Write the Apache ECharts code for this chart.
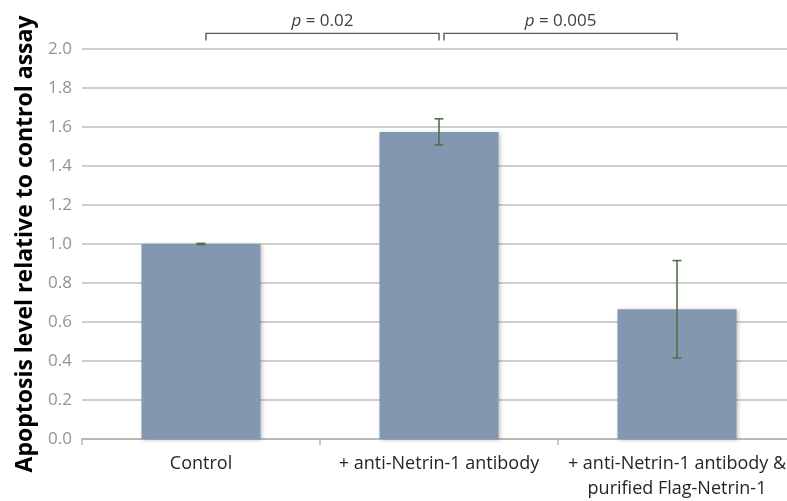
<!DOCTYPE html>
<html>
<head>
<meta charset="utf-8">
<script src="https://cdn.jsdelivr.net/npm/echarts@6/dist/echarts.min.js"></script>
<style>
  html, body { margin: 0; padding: 0; background: #fff; }
  #chart { width: 787px; height: 501px; }
</style>
</head>
<body>
<div id="chart"></div>
<script>
// ---- data ----
const categories = ['Control', '+ anti-Netrin-1 antibody', '+ anti-Netrin-1 antibody &\npurified Flag-Netrin-1'];
const means = [1.0, 1.575, 0.665];
const errors = [0.003, 0.067, 0.25];
const comparisons = [[0, 1], [1, 2]];
const pValues = ['0.02', '0.005'];
const bracketLevel = 2.08;     // value where bracket lines sit
const yTicks = [0, 2, 0.2];    // min, max, interval

const chart = echarts.init(document.getElementById('chart'), null, { renderer: 'canvas' });

const errorData = means.map((m, i) => [i, m - errors[i], m + errors[i]]);
const bracketData = comparisons.map((c, i) => [c[0], c[1], bracketLevel, pValues[i]]);

const option = {
  animation: false,
  grid: { left: 82, right: -9, top: 49, bottom: 62, containLabel: false, outerBoundsMode: 'none' },
  xAxis: {
    type: 'category',
    data: categories,
    axisLine: { lineStyle: { color: '#b3b3b3', width: 1.5 } },
    axisTick: { show: true, length: 6, lineStyle: { color: '#b3b3b3', width: 1.5 } },
    axisLabel: {
      color: '#262626', fontFamily: 'Open Sans', fontSize: 18, margin: 12, lineHeight: 25,
      interval: 0
    }
  },
  yAxis: {
    type: 'value',
    min: yTicks[0], max: yTicks[1], interval: yTicks[2],
    name: 'Apoptosis level relative to control assay',
    nameLocation: 'middle',
    nameRotate: 90,
    nameGap: 45,
    nameTextStyle: { color: '#000', fontFamily: 'Open Sans', fontWeight: 'bold', fontSize: 23 },
    axisLine: { show: false },
    axisTick: { show: false },
    axisLabel: {
      color: '#939393', fontFamily: 'Open Sans', fontSize: 17, margin: 10,
      formatter: v => v.toFixed(1)
    },
    splitLine: { lineStyle: { color: '#bfbfbf', width: 1.5 } }
  },
  series: [
    {
      type: 'bar',
      data: means,
      barWidth: '50%',
      itemStyle: {
        color: '#8497b0',
        shadowColor: 'rgba(0,0,0,0.25)', shadowBlur: 4, shadowOffsetX: 1, shadowOffsetY: 1
      },
      z: 2
    },
    {
      type: 'custom',
      data: errorData,
      z: 5,
      renderItem: function (params, api) {
        const x = api.value(0);
        const lo = api.coord([x, api.value(1)]);
        const hi = api.coord([x, api.value(2)]);
        const cap = 4.5;
        const style = { stroke: '#52704a', lineWidth: 1.6 };
        return {
          type: 'group',
          children: [
            { type: 'line', shape: { x1: hi[0], y1: hi[1], x2: lo[0], y2: lo[1] }, style },
            { type: 'line', shape: { x1: hi[0] - cap, y1: hi[1], x2: hi[0] + cap, y2: hi[1] }, style },
            { type: 'line', shape: { x1: lo[0] - cap, y1: lo[1], x2: lo[0] + cap, y2: lo[1] }, style }
          ]
        };
      }
    },
    {
      type: 'custom',
      data: bracketData,
      clip: false,
      z: 6,
      renderItem: function (params, api) {
        const a = api.coord([api.value(0), api.value(2)]);
        const b = api.coord([api.value(1), api.value(2)]);
        const x1 = a[0] + 5, x2 = b[0];
        const y = a[1];
        const drop = 7;
        const style = { stroke: '#595959', lineWidth: 1.4, fill: null };
        return {
          type: 'group',
          children: [
            { type: 'polyline', shape: { points: [[x1, y + drop], [x1, y], [x2, y], [x2, y + drop]] }, style },
            {
              type: 'text',
              x: (x1 + x2) / 2, y: y - 12,
              style: {
                text: '{i|p} = ' + bracketData[params.dataIndex][3],
                align: 'center', verticalAlign: 'middle',
                fill: '#404040', fontFamily: 'Open Sans', fontSize: 17,
                rich: { i: { fontStyle: 'italic', fontFamily: 'Open Sans', fontSize: 17, fill: '#404040' } }
              }
            }
          ]
        };
      }
    }
  ]
};
chart.setOption(option);
</script>
</body>
</html>
